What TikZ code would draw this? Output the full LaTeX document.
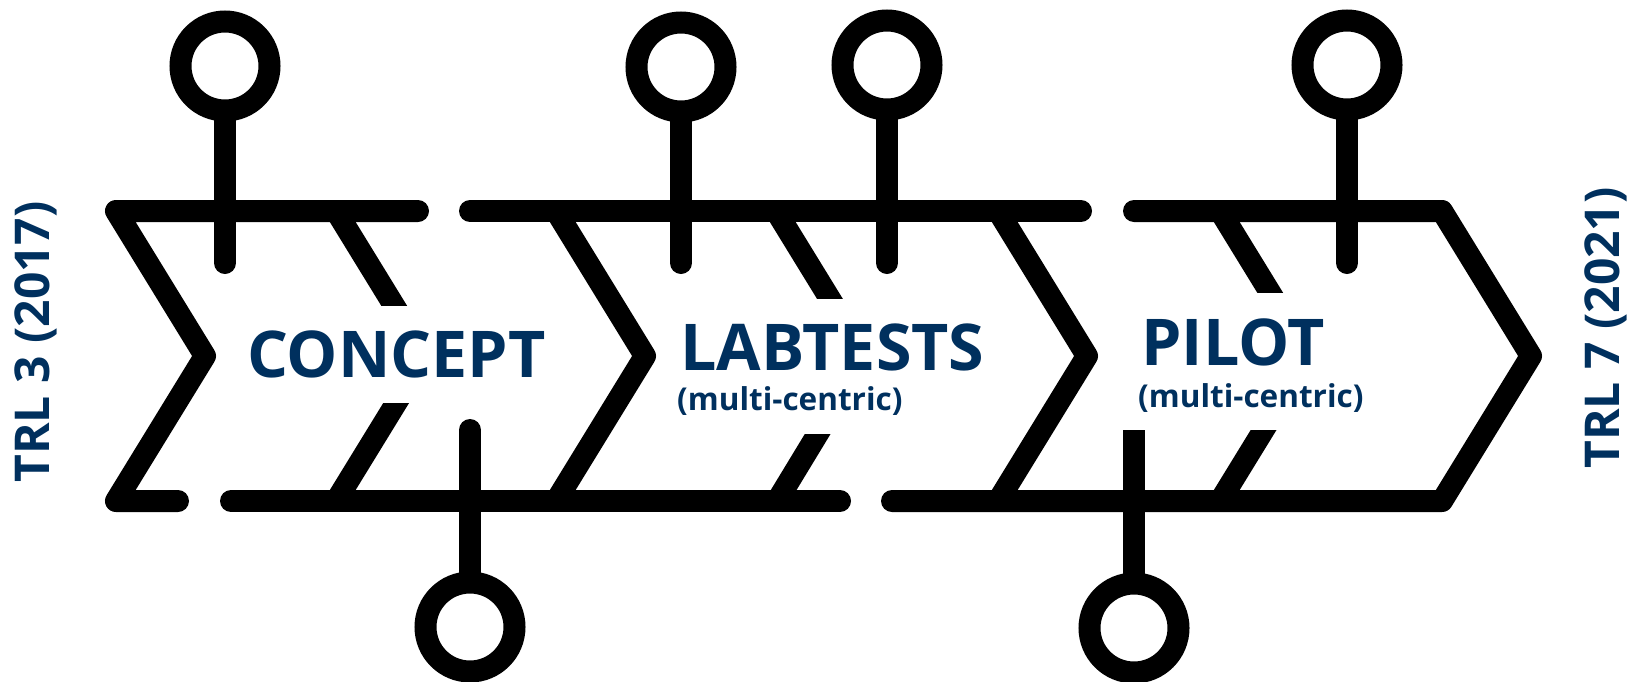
\documentclass[tikz,border=0pt]{standalone}
\usepackage{fontspec}
\setmainfont{Open Sans}
\definecolor{navy}{RGB}{0,48,94}
\begin{document}
\begin{tikzpicture}[x=1pt,y=-1pt,
  bar/.style={line width=22pt, line cap=round, line join=round, draw=black},
  ring/.style={line width=22pt, draw=black, fill=white},
  mask/.style={fill=white, draw=none},
  big/.style={font=\fontsize{64.5}{64.5}\selectfont\bfseries, text=navy, inner sep=0pt, anchor=base west},
  small/.style={font=\fontsize{31.5}{31.5}\selectfont\bfseries, text=navy, inner sep=0pt, anchor=base west},
  trl/.style={font=\fontsize{48}{48}\selectfont\bfseries, text=navy, inner sep=0pt, rotate=90}]
\useasboundingbox (0,0) rectangle (1634,681);

% stems (drawn first, circles on top)
\coordinate (c1) at (225,66);
\coordinate (c2) at (681,67);
\coordinate (c3) at (887,65);
\coordinate (c4) at (1347,65);
\coordinate (c5) at (470,627);
\coordinate (c6) at (1134,628);
\coordinate (s1) at (225,263);
\coordinate (s2) at (681,263);
\coordinate (s3) at (887,263);
\coordinate (s4) at (1347,263);
\coordinate (s5) at (470,430);
\coordinate (s6) at (1134,380);
\foreach \i in {1,...,6} {\draw[bar] (c\i) -- (s\i);}

% first chevron with its top and bottom pieces
\draw[bar] (418,211) -- (116,211) -- (205,356) -- (116,501) -- (178,501);
% inner chevron of CONCEPT
\draw[bar] (336,211) -- (425,356) -- (336,501);
% second segment lines
\draw[bar] (470,211) -- (1081,211);
\draw[bar] (231,501) -- (840,501);
% second chevron
\draw[bar] (556,211) -- (645,356) -- (556,501);
% inner chevron of LABTESTS
\draw[bar] (776,211) -- (865,356) -- (777,501);
% third chevron
\draw[bar] (998,211) -- (1087,356) -- (998,501);
% last segment with closing arrow
\draw[bar] (1134,211) -- (1442,211) -- (1531,356) -- (1442,501) -- (892,501);
% inner chevron of PILOT
\draw[bar] (1220,211) -- (1309,356) -- (1220,501);

% rings
\foreach \i in {1,...,6} {\draw[ring] (c\i) circle[radius=44.5];}

% white masks behind the texts
\fill[mask] (245,306) rectangle (548,403);
\fill[mask] (670,299) rectangle (985,434);
\fill[mask] (1115,293) rectangle (1375,430);

% texts
\node[big] (concept) at (247,377) {CONCEPT};
\node[big] (labtests) at (680,370) {LABTESTS};
\node[small] (labsub) at (677,410) {(multi-centric)};
\node[big] (pilot) at (1141,365) {PILOT};
\node[small] (pilsub) at (1138,407) {(multi-centric)};
\node[trl] (trl3) at (36,342) {TRL 3 (2017)};
\node[trl] (trl7) at (1606,328) {TRL 7 (2021)};
\end{tikzpicture}
\end{document}
